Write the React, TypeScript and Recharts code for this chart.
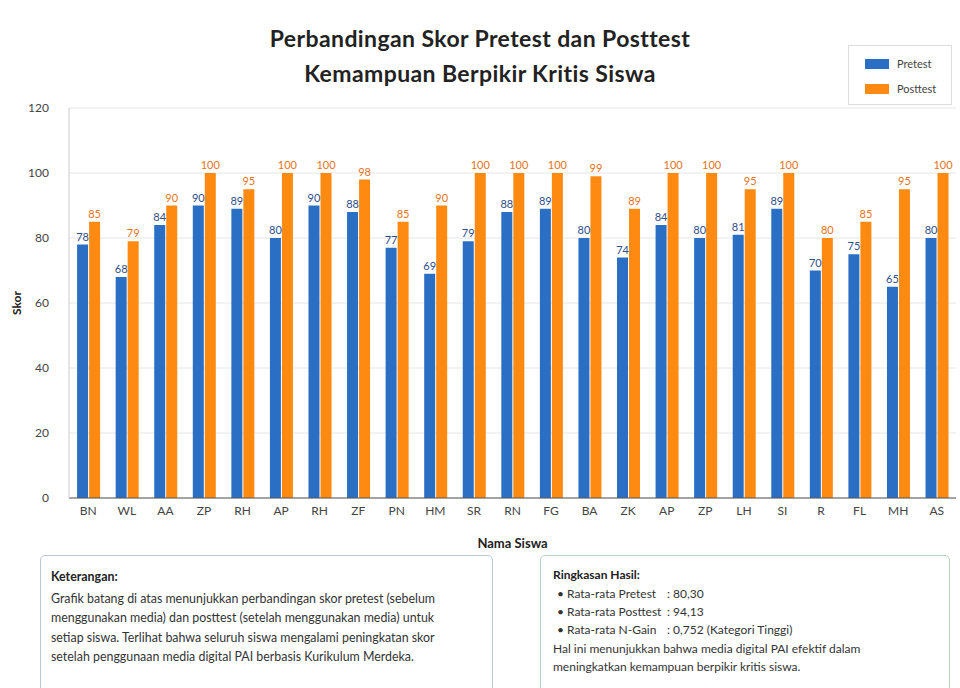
import React from 'react';
import { BarChart, Bar, XAxis, YAxis, CartesianGrid, LabelList, Label } from 'recharts';

const names = ['BN', 'WL', 'AA', 'ZP', 'RH', 'AP', 'RH', 'ZF', 'PN', 'HM', 'SR', 'RN', 'FG', 'BA', 'ZK', 'AP', 'ZP', 'LH', 'SI', 'R', 'FL', 'MH', 'AS'];
const pretest = [78, 68, 84, 90, 89, 80, 90, 88, 77, 69, 79, 88, 89, 80, 74, 84, 80, 81, 89, 70, 75, 65, 80];
const posttest = [85, 79, 90, 100, 95, 100, 100, 98, 85, 90, 100, 100, 100, 99, 89, 100, 100, 95, 100, 80, 85, 95, 100];
const yTicks = [0, 20, 40, 60, 80, 100, 120];

const noteLines = [
  'Grafik batang di atas menunjukkan perbandingan skor pretest (sebelum',
  'menggunakan media) dan posttest (setelah menggunakan media) untuk',
  'setiap siswa. Terlihat bahwa seluruh siswa mengalami peningkatan skor',
  'setelah penggunaan media digital PAI berbasis Kurikulum Merdeka.',
];

const summaryRows = [
  { label: 'Rata-rata Pretest', value: ': 80,30' },
  { label: 'Rata-rata Posttest', value: ': 94,13' },
  { label: 'Rata-rata N-Gain', value: ': 0,752 (Kategori Tinggi)' },
];

const blue = '#2B6FC4';
const orange = '#FF8A12';
const font = 'Lato, "Noto Sans", sans-serif';

const legendItems = [
  { name: 'Pretest', color: blue },
  { name: 'Posttest', color: orange },
];

export default function App() {
  const data = names.map((n, i) => ({ name: n, pretest: pretest[i], posttest: posttest[i] }));

  return (
    <div style={{ position: 'absolute', left: 0, top: 0, width: 960, height: 688, background: '#fff', fontFamily: font, overflow: 'hidden' }}>
      <div style={{ position: 'absolute', top: 21, left: 0, width: 960, textAlign: 'center', fontSize: 23, letterSpacing: 0.4, fontWeight: 700, color: '#222', lineHeight: '35px' }}>
        Perbandingan Skor Pretest dan Posttest
        <br />
        Kemampuan Berpikir Kritis Siswa
      </div>

      <BarChart
        width={960}
        height={560}
        data={data}
        margin={{ top: 108, right: 4, left: 19, bottom: 0 }}
        barCategoryGap="21%"
        barGap={1}
      >
        <CartesianGrid vertical={false} stroke="#e6e6e6" />
        <XAxis
          dataKey="name"
          interval={0}
          height={62}
          tickLine={false}
          stroke="#555"
          tick={{ fill: '#444', fontSize: 12 }}
        >
          <Label value="Nama Siswa" position="insideBottom" offset={12} style={{ fill: '#222', fontSize: 13, fontWeight: 700 }} />
        </XAxis>
        <YAxis
          domain={[0, 120]}
          ticks={yTicks}
          width={50}
          tickLine={false}
          tickMargin={14}
          stroke="#ccc"
          tick={{ fill: '#444', fontSize: 12 }}
        >
          <Label value="Skor" angle={-90} position="insideLeft" offset={-2} style={{ fill: '#222', fontSize: 12, fontWeight: 700, textAnchor: 'middle' }} />
        </YAxis>
        <Bar dataKey="pretest" name="Pretest" fill={blue} isAnimationActive={false}>
          <LabelList dataKey="pretest" position="top" offset={4} style={{ fill: '#2E4E8C', fontSize: 11 }} />
        </Bar>
        <Bar dataKey="posttest" name="Posttest" fill={orange} isAnimationActive={false}>
          <LabelList dataKey="posttest" position="top" offset={4} style={{ fill: '#E8731A', fontSize: 11 }} />
        </Bar>
      </BarChart>

      <div
        style={{
          position: 'absolute',
          left: 848,
          top: 45,
          width: 104,
          height: 60,
          boxSizing: 'border-box',
          border: '1px solid #ddd',
          background: '#fff',
          padding: '5px 0 0 16px',
          fontSize: 11,
          color: '#444',
        }}
      >
        {legendItems.map((it) => (
          <div key={it.name} style={{ display: 'flex', alignItems: 'center', height: 25 }}>
            <span style={{ width: 24, height: 10, background: it.color, marginRight: 8, display: 'inline-block' }} />
            {it.name}
          </div>
        ))}
      </div>

      <div
        style={{
          position: 'absolute',
          left: 40,
          top: 555,
          width: 453,
          height: 150,
          boxSizing: 'border-box',
          border: '1.5px solid #b9c8d8',
          borderRadius: 5,
          padding: '11px 8px 12px 10px',
          fontSize: 12.4,
          color: '#333',
          lineHeight: '19.5px',
          whiteSpace: 'nowrap',
        }}
      >
        <div style={{ fontWeight: 700, color: '#222', marginBottom: 2 }}>Keterangan:</div>
        {noteLines.map((l) => (
          <div key={l}>{l}</div>
        ))}
      </div>

      <div
        style={{
          position: 'absolute',
          left: 540,
          top: 555,
          width: 410,
          height: 150,
          boxSizing: 'border-box',
          border: '1.5px solid #b7d3c0',
          borderRadius: 5,
          padding: '10px 50px 10px 12px',
          fontSize: 12,
          color: '#333',
          lineHeight: '18px',
        }}
      >
        <div style={{ fontWeight: 700, color: '#222', marginBottom: 1 }}>Ringkasan Hasil:</div>
        {summaryRows.map((r) => (
          <div key={r.label} style={{ display: 'flex', paddingLeft: 4, whiteSpace: 'nowrap' }}>
            <span style={{ width: 10 }}>•</span>
            <span style={{ width: 100 }}>{r.label}</span>
            <span>{r.value}</span>
          </div>
        ))}
        <div style={{ marginTop: 1 }}>Hal ini menunjukkan bahwa media digital PAI efektif dalam meningkatkan kemampuan berpikir kritis siswa.</div>
      </div>
    </div>
  );
}
